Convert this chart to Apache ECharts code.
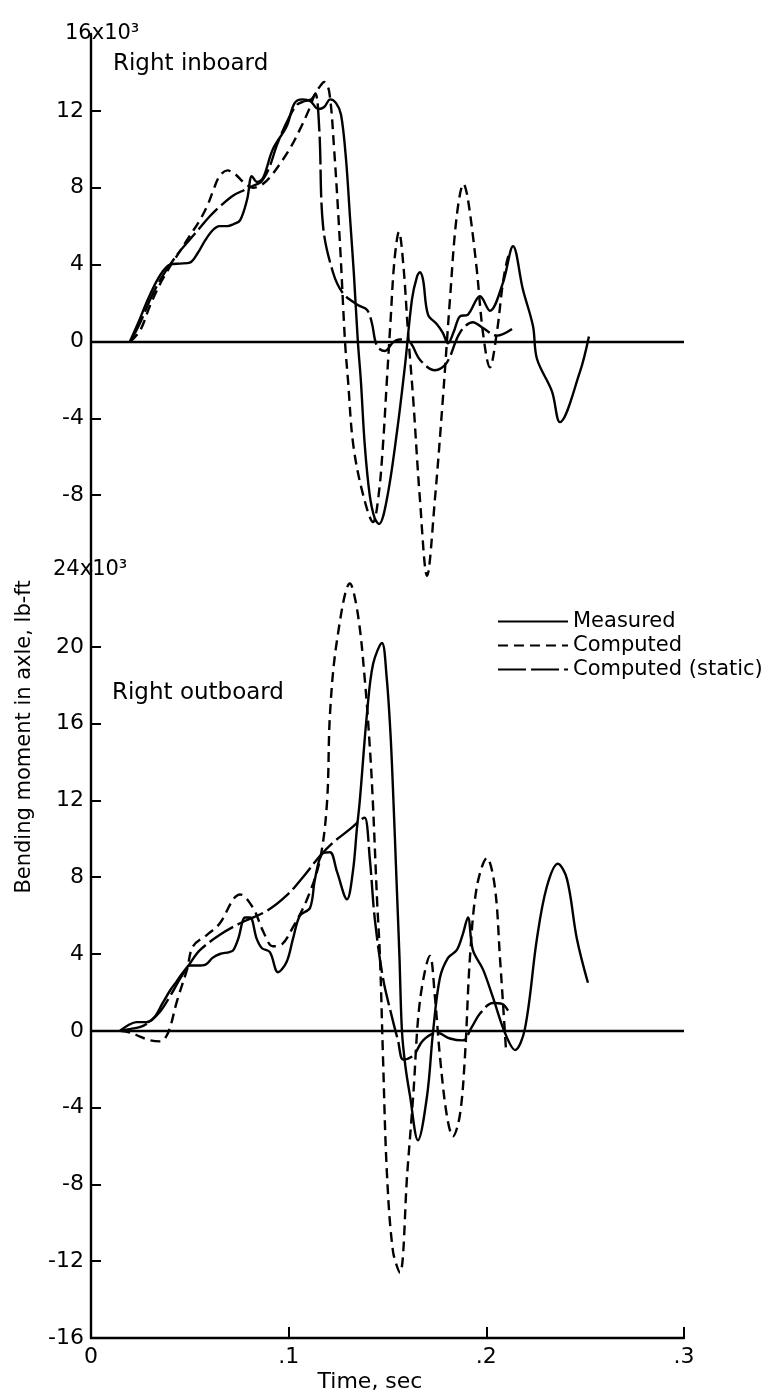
<!DOCTYPE html>
<html>
<head>
<meta charset="utf-8">
<title>Bending moment in axle</title>
<script src="https://cdn.jsdelivr.net/npm/echarts@6/dist/echarts.min.js"></script>
<style>
  html, body { margin: 0; padding: 0; background: #fff; }
  #chart { width: 775px; height: 1397px; }
</style>
</head>
<body>
<div id="chart"></div>
<script>
// [time sec, moment x10^3 lb-ft]
const inboardMeasured = [
  [0.0197, 0], [0.024, 1.0], [0.028, 2.0], [0.032, 2.9], [0.036, 3.6], [0.040, 4.0], [0.045, 4.05],
  [0.050, 4.1], [0.054, 4.6], [0.058, 5.3], [0.0617, 5.8], [0.065, 6.0], [0.069, 6.0], [0.072, 6.1],
  [0.0754, 6.3], [0.079, 7.4], [0.0814, 8.6], [0.084, 8.3], [0.087, 8.5], [0.092, 10.0], [0.099, 11.2],
  [0.103, 12.4], [0.107, 12.6], [0.111, 12.5], [0.115, 12.1], [0.118, 12.2], [0.121, 12.6], [0.124, 12.4],
  [0.1265, 11.8], [0.129, 9.5], [0.131, 6.5], [0.133, 3.5], [0.135, 0], [0.1365, -2.0], [0.1385, -5.4],
  [0.141, -8.0], [0.1435, -9.2], [0.1457, -9.5], [0.1497, -8.2], [0.1548, -4.7], [0.1588, -1.3],
  [0.1624, 2.2], [0.165, 3.4], [0.1664, 3.6], [0.168, 3.2], [0.1705, 1.4], [0.175, 0.9], [0.178, 0.45],
  [0.1806, -0.1], [0.1835, 0.5], [0.1866, 1.3], [0.1907, 1.4], [0.1968, 2.35], [0.2018, 1.6],
  [0.2084, 3.05], [0.2135, 4.95], [0.2185, 2.7], [0.2236, 0.8], [0.2256, -0.9], [0.2332, -2.6],
  [0.2372, -4.2], [0.2473, -1.6], [0.2519, 0.26]
];
const inboardComputed = [
  [0.020, 0], [0.025, 0.6], [0.030, 1.9], [0.035, 3.0], [0.040, 3.9], [0.045, 4.7], [0.050, 5.5],
  [0.055, 6.3], [0.059, 7.1], [0.062, 7.9], [0.065, 8.6], [0.069, 8.9], [0.073, 8.7], [0.077, 8.3],
  [0.082, 8.0], [0.087, 8.2], [0.091, 8.6], [0.096, 9.3], [0.101, 10.1], [0.106, 11.1], [0.110, 12.0],
  [0.113, 12.8], [0.116, 13.3], [0.118, 13.5], [0.1205, 13.0], [0.123, 10.0], [0.126, 5.0], [0.1285, 0],
  [0.130, -2.0], [0.1327, -5.4], [0.1377, -8.0], [0.1427, -9.4], [0.1455, -8.0], [0.1477, -5.4],
  [0.1497, -2.0], [0.1515, 1.0], [0.1535, 4.2], [0.1558, 5.7], [0.158, 4.0], [0.1604, 0.45],
  [0.163, -3.0], [0.1664, -8.2], [0.170, -12.2], [0.174, -8.2], [0.178, -3.0], [0.1816, 2.2],
  [0.185, 6.5], [0.1885, 8.2], [0.1907, 7.4], [0.195, 3.9], [0.1983, 0.45], [0.2018, -1.35],
  [0.2053, 0.45], [0.2084, 3.05], [0.211, 4.4], [0.2125, 4.6]
];
const inboardStatic = [
  [0.020, 0], [0.025, 1.0], [0.030, 2.2], [0.035, 3.2], [0.040, 4.0], [0.045, 4.7], [0.050, 5.3],
  [0.055, 5.9], [0.060, 6.5], [0.066, 7.1], [0.072, 7.6], [0.078, 7.9], [0.082, 8.1], [0.086, 8.3],
  [0.090, 9.0], [0.094, 10.2], [0.099, 11.4], [0.104, 12.3], [0.108, 12.5], [0.1115, 12.6],
  [0.1135, 12.9], [0.1155, 11.0], [0.1174, 6.0], [0.1224, 3.6], [0.1275, 2.5], [0.135, 1.9],
  [0.1396, 1.65], [0.142, 1.0], [0.1447, -0.25], [0.1487, -0.5], [0.1528, -0.05], [0.156, 0.1],
  [0.161, 0], [0.1664, -0.95], [0.174, -1.5], [0.180, -1.1], [0.1866, 0.45], [0.1932, 1.0],
  [0.1983, 0.7], [0.2053, 0.3], [0.213, 0.65]
];

const outboardMeasured = [
  [0.0147, 0], [0.019, 0.3], [0.023, 0.45], [0.028, 0.45], [0.032, 0.7], [0.036, 1.4], [0.040, 2.1],
  [0.0435, 2.6], [0.047, 3.1], [0.050, 3.4], [0.054, 3.4], [0.058, 3.45], [0.0615, 3.8], [0.0652, 4.0],
  [0.070, 4.1], [0.072, 4.2], [0.0745, 4.8], [0.078, 5.9], [0.0805, 5.9], [0.0838, 4.8], [0.0865, 4.3],
  [0.0905, 4.1], [0.0946, 3.05], [0.099, 3.6], [0.1022, 4.8], [0.1057, 6.0], [0.1108, 6.4],
  [0.1133, 7.9], [0.1168, 9.2], [0.1209, 9.3], [0.1244, 8.3], [0.1295, 6.85], [0.1325, 8.3],
  [0.1345, 10.5], [0.136, 12.0], [0.1396, 16.5], [0.1427, 19.1], [0.1472, 20.2], [0.1495, 18.5],
  [0.1515, 15.5], [0.153, 12.0], [0.1545, 8.0], [0.156, 4.0], [0.1573, 0], [0.159, -1.8],
  [0.1614, -3.4], [0.1654, -5.7], [0.170, -3.4], [0.173, -0.1], [0.1765, 2.75], [0.1806, 3.8],
  [0.185, 4.2], [0.188, 5.0], [0.1907, 5.9], [0.1932, 4.2], [0.1983, 3.2], [0.2033, 1.75],
  [0.2094, -0.1], [0.2145, -1.0], [0.2195, 0.1], [0.2256, 4.8], [0.2306, 7.5], [0.2362, 8.7],
  [0.2408, 7.9], [0.2458, 4.8], [0.2514, 2.5]
];
const outboardComputed = [
  [0.0147, 0], [0.020, -0.1], [0.0248, -0.3], [0.030, -0.5], [0.035, -0.55], [0.039, -0.1],
  [0.0435, 1.55], [0.0486, 3.2], [0.0516, 4.4], [0.0587, 5.0], [0.0652, 5.6], [0.072, 6.85],
  [0.0754, 7.1], [0.082, 6.4], [0.087, 5.2], [0.092, 4.4], [0.0966, 4.5], [0.1022, 5.4],
  [0.1093, 6.85], [0.1158, 8.9], [0.1194, 11.9], [0.1209, 16.5], [0.1244, 20.3], [0.131, 23.3],
  [0.135, 21.7], [0.1386, 18.2], [0.1411, 14.7], [0.1426, 11.9], [0.1447, 6.85], [0.1462, 3.8],
  [0.1477, -1.3], [0.1497, -7.4], [0.1528, -11.5], [0.1563, -12.6], [0.160, -7.4], [0.163, -3.4],
  [0.1664, 1.55], [0.1715, 3.9], [0.174, 1.75], [0.1765, -1.3], [0.180, -4.4], [0.1831, -5.5],
  [0.1866, -4.4], [0.1892, -1.3], [0.1917, 3.8], [0.1952, 7.5], [0.2003, 9.0], [0.2043, 7.5],
  [0.2069, 3.8], [0.2094, -0.1], [0.210, -1.1]
];
const outboardStatic = [
  [0.0147, 0], [0.020, 0.1], [0.025, 0.2], [0.030, 0.5], [0.035, 1.0], [0.040, 1.8], [0.045, 2.7],
  [0.050, 3.5], [0.0551, 4.2], [0.0652, 5.0], [0.0754, 5.6], [0.089, 6.25], [0.099, 7.05],
  [0.1072, 8.0], [0.1158, 9.1], [0.1224, 9.8], [0.131, 10.5], [0.1365, 11.0], [0.1385, 11.1],
  [0.1411, 8.9], [0.1436, 5.8], [0.1477, 2.75], [0.1523, 0.7], [0.1553, -0.5], [0.158, -1.5],
  [0.163, -1.3], [0.168, -0.5], [0.175, -0.1], [0.1816, -0.4], [0.188, -0.5], [0.1927, 0.2],
  [0.1968, 0.9], [0.2033, 1.45], [0.2079, 1.4], [0.211, 1.05]
];

// axis ticks
const inboardLabels = [-8, -4, 0, 4, 8, 12];
const outboardLabels = [-16, -12, -8, -4, 0, 4, 8, 12, 16, 20];
const outboardTicks = [-12, -8, -4, 0, 4, 8, 12, 16, 20];
const timeTicks = [0.1, 0.2, 0.3];

const seriesNames = ['Measured', 'Computed', 'Computed (static)'];
const dashes = ['solid', [10, 6], [28, 5]];

const FONT = 'DejaVu Sans';
const chart = echarts.init(document.getElementById('chart'));

function curve(i, data, panel) {
  const s = {
    name: seriesNames[i],
    type: 'line',
    xAxisIndex: panel,
    yAxisIndex: panel,
    data: data,
    smooth: 0.35,
    clip: false,
    symbol: 'none',
    lineStyle: { color: '#000', width: 2.4, type: dashes[i] },
    itemStyle: { color: '#000' },
    z: 3
  };
  if (i === 0) {
    // zero line of the panel
    s.markLine = {
      silent: true,
      symbol: 'none',
      label: { show: false },
      lineStyle: { color: '#000', width: 2.4, type: 'solid' },
      data: [{ yAxis: 0 }]
    };
  }
  return s;
}

function yAxis(panel, min, max, labels, ticks) {
  return {
    type: 'value',
    gridIndex: panel,
    min: min, max: max, interval: 4,
    splitLine: { show: false },
    axisLine: { show: true, onZero: false, lineStyle: { color: '#000', width: 2.4 } },
    axisTick: { show: true, inside: true, length: 10, customValues: ticks, lineStyle: { color: '#000', width: 2 } },
    axisLabel: { customValues: labels, color: '#000', fontFamily: FONT, fontSize: 22, margin: 7 }
  };
}

function txt(text, x, y, size, align, rotation) {
  return {
    type: 'text', x: x, y: y, rotation: rotation || 0, silent: true,
    style: {
      text: text, fontFamily: FONT, fontSize: size, fill: '#000',
      align: align || 'left', verticalAlign: 'middle'
    }
  };
}

chart.setOption({
  animation: false,
  backgroundColor: '#fff',
  grid: [
    { left: 91, top: 34, width: 593, height: 538 },
    { left: 91, top: 570, width: 593, height: 768 }
  ],
  xAxis: [
    { type: 'value', gridIndex: 0, min: 0, max: 0.3, interval: 0.1, show: false },
    {
      type: 'value', gridIndex: 1, min: 0, max: 0.3, interval: 0.1,
      splitLine: { show: false },
      axisLine: { show: true, onZero: false, lineStyle: { color: '#000', width: 2.4 } },
      axisTick: { show: true, inside: true, length: 11, customValues: timeTicks, lineStyle: { color: '#000', width: 2 } },
      axisLabel: {
        color: '#000', fontFamily: FONT, fontSize: 22, margin: 8,
        formatter: v => v === 0 ? '0' : '.' + Math.round(v * 10)
      }
    }
  ],
  yAxis: [
    yAxis(0, -12, 16, inboardLabels, inboardLabels),
    yAxis(1, -16, 24, outboardLabels, outboardTicks)
  ],
  legend: {
    orient: 'vertical',
    left: 497, top: 611,
    padding: 0,
    itemWidth: 70, itemHeight: 14, itemGap: 3,
    selectedMode: false,
    data: seriesNames,
    itemStyle: { opacity: 0 },
    textStyle: { color: '#000', fontFamily: FONT, fontSize: 21, lineHeight: 20 }
  },
  graphic: [
    txt('16x10³', 65, 34, 21),
    txt('24x10³', 53, 570, 21),
    txt('Right inboard', 113, 64, 23),
    txt('Right outboard', 112, 693, 23),
    txt('Time, sec', 370, 1382, 22, 'center'),
    txt('Bending moment in axle, lb-ft', 25, 737, 21, 'center', Math.PI / 2)
  ],
  series: [
    curve(0, inboardMeasured, 0),
    curve(1, inboardComputed, 0),
    curve(2, inboardStatic, 0),
    curve(0, outboardMeasured, 1),
    curve(1, outboardComputed, 1),
    curve(2, outboardStatic, 1)
  ]
});
</script>
</body>
</html>
